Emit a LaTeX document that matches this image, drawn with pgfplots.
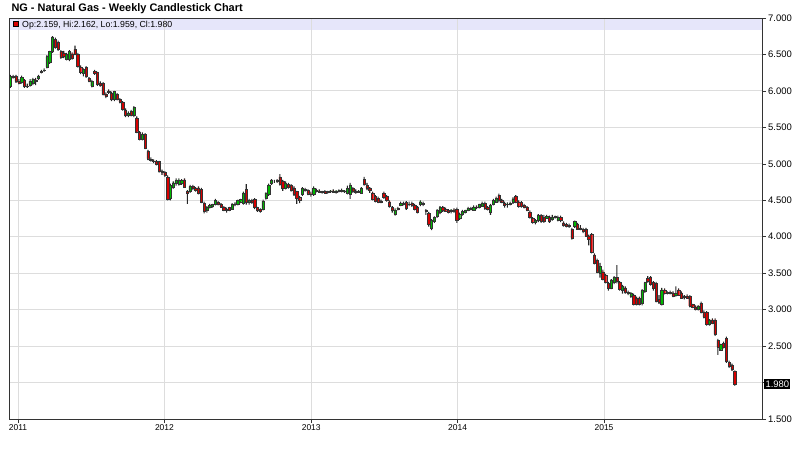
\documentclass[border=0pt]{standalone}
\usepackage{pgfplots}
\pgfplotsset{compat=1.18}
\usepackage{pgfplotstable}
\usepackage{fontspec}
\setmainfont{Liberation Sans}

\definecolor{candleup}{RGB}{0,185,0}
\definecolor{candledown}{RGB}{215,0,0}
\definecolor{bandc}{RGB}{230,230,250}
\definecolor{gridc}{RGB}{221,221,221}

\pgfplotstableread{
i o h l c
0 6.06 6.22 6.04 6.20
1 6.20 6.22 6.17 6.19
2 6.20 6.22 6.11 6.13
3 6.13 6.16 6.09 6.11
4 6.12 6.21 6.10 6.19
5 6.15 6.16 6.04 6.07
6 6.07 6.10 6.04 6.06
7 6.08 6.16 6.06 6.13
8 6.10 6.18 6.08 6.16
9 6.15 6.18 6.08 6.14
10 6.18 6.22 6.15 6.20
11 6.25 6.29 6.24 6.27
12 6.28 6.31 6.26 6.29
13 6.33 6.49 6.31 6.47
14 6.39 6.55 6.37 6.54
15 6.54 6.75 6.52 6.73
16 6.71 6.73 6.58 6.60
17 6.67 6.69 6.55 6.57
18 6.54 6.56 6.44 6.46
19 6.52 6.55 6.45 6.47
20 6.44 6.52 6.42 6.50
21 6.43 6.56 6.41 6.54
22 6.51 6.53 6.43 6.45
23 6.57 6.62 6.49 6.50
24 6.50 6.52 6.32 6.34
25 6.33 6.35 6.23 6.25
26 6.24 6.31 6.20 6.30
27 6.32 6.34 6.18 6.20
28 6.17 6.19 6.12 6.14
29 6.07 6.15 6.05 6.13
30 6.27 6.29 6.22 6.24
31 6.25 6.26 6.07 6.09
32 6.10 6.13 6.06 6.08
33 6.10 6.12 5.94 5.95
34 5.96 5.98 5.90 5.93
35 6.00 6.02 5.96 5.98
36 5.97 5.99 5.86 5.88
37 5.88 6.00 5.86 5.99
38 5.95 5.97 5.87 5.89
39 5.88 5.90 5.83 5.85
40 5.84 5.86 5.73 5.75
41 5.74 5.76 5.64 5.66
42 5.66 5.72 5.64 5.70
43 5.72 5.74 5.65 5.67
44 5.66 5.79 5.64 5.77
45 5.63 5.65 5.42 5.44
46 5.43 5.45 5.32 5.34
47 5.34 5.43 5.32 5.40
48 5.40 5.42 5.20 5.22
49 5.17 5.19 5.05 5.07
50 5.06 5.09 5.03 5.05
51 5.04 5.06 5.01 5.03
52 5.03 5.05 4.98 4.99
53 5.03 5.04 4.88 4.90
54 4.90 4.92 4.85 4.88
55 4.88 4.90 4.82 4.84
56 4.82 4.84 4.50 4.52
57 4.53 4.73 4.50 4.70
58 4.68 4.76 4.66 4.74
59 4.74 4.80 4.70 4.77
60 4.72 4.80 4.70 4.78
61 4.73 4.79 4.71 4.77
62 4.78 4.80 4.67 4.68
63 4.62 4.64 4.45 4.60
64 4.62 4.71 4.60 4.69
65 4.69 4.71 4.64 4.66
66 4.66 4.68 4.62 4.64
67 4.67 4.69 4.58 4.60
68 4.65 4.67 4.46 4.48
69 4.46 4.48 4.32 4.35
70 4.36 4.42 4.33 4.41
71 4.41 4.45 4.39 4.43
72 4.42 4.45 4.40 4.44
73 4.44 4.52 4.43 4.50
74 4.47 4.49 4.43 4.44
75 4.44 4.46 4.40 4.41
76 4.40 4.42 4.35 4.37
77 4.38 4.40 4.33 4.36
78 4.40 4.41 4.35 4.36
79 4.38 4.46 4.37 4.44
80 4.44 4.47 4.42 4.45
81 4.44 4.51 4.43 4.50
82 4.48 4.52 4.46 4.51
83 4.46 4.62 4.44 4.60
84 4.65 4.72 4.44 4.47
85 4.48 4.52 4.44 4.50
86 4.50 4.52 4.45 4.47
87 4.51 4.53 4.38 4.40
88 4.40 4.41 4.34 4.36
89 4.38 4.39 4.33 4.35
90 4.38 4.51 4.36 4.49
91 4.53 4.61 4.51 4.60
92 4.58 4.73 4.56 4.71
93 4.73 4.79 4.71 4.77
94 4.76 4.78 4.74 4.76
95 4.76 4.79 4.74 4.77
96 4.82 4.86 4.70 4.72
97 4.76 4.78 4.63 4.66
98 4.67 4.76 4.65 4.74
99 4.72 4.74 4.66 4.68
100 4.70 4.72 4.62 4.64
101 4.67 4.69 4.56 4.58
102 4.62 4.63 4.45 4.53
103 4.54 4.56 4.46 4.50
104 4.58 4.68 4.56 4.66
105 4.65 4.67 4.62 4.64
106 4.64 4.65 4.57 4.59
107 4.59 4.62 4.55 4.58
108 4.58 4.69 4.56 4.67
109 4.64 4.66 4.61 4.63
110 4.63 4.65 4.60 4.61
111 4.61 4.63 4.59 4.62
112 4.62 4.64 4.59 4.60
113 4.61 4.63 4.59 4.62
114 4.62 4.64 4.60 4.63
115 4.63 4.65 4.60 4.61
116 4.61 4.64 4.59 4.63
117 4.63 4.65 4.61 4.64
118 4.64 4.66 4.61 4.62
119 4.62 4.64 4.60 4.63
120 4.60 4.70 4.58 4.66
121 4.58 4.74 4.52 4.71
122 4.66 4.68 4.60 4.62
123 4.62 4.65 4.59 4.61
124 4.61 4.64 4.60 4.63
125 4.60 4.68 4.59 4.67
126 4.79 4.82 4.70 4.72
127 4.70 4.74 4.64 4.66
128 4.66 4.68 4.60 4.64
129 4.60 4.62 4.50 4.52
130 4.55 4.57 4.47 4.49
131 4.53 4.55 4.46 4.48
132 4.49 4.51 4.46 4.47
133 4.60 4.62 4.52 4.54
134 4.55 4.57 4.48 4.50
135 4.48 4.50 4.40 4.42
136 4.40 4.42 4.33 4.36
137 4.31 4.39 4.29 4.37
138 4.38 4.41 4.36 4.39
139 4.43 4.48 4.42 4.46
140 4.45 4.48 4.43 4.46
141 4.47 4.49 4.37 4.39
142 4.44 4.48 4.42 4.45
143 4.46 4.48 4.41 4.43
144 4.43 4.45 4.36 4.38
145 4.40 4.42 4.32 4.34
146 4.44 4.50 4.42 4.48
147 4.46 4.48 4.42 4.44
148 4.36 4.38 4.30 4.35
149 4.32 4.34 4.14 4.17
150 4.12 4.24 4.09 4.22
151 4.21 4.28 4.19 4.27
152 4.28 4.38 4.26 4.36
153 4.33 4.42 4.31 4.40
154 4.40 4.42 4.34 4.36
155 4.38 4.40 4.34 4.35
156 4.36 4.38 4.32 4.34
157 4.35 4.38 4.32 4.37
158 4.37 4.39 4.33 4.35
159 4.38 4.40 4.19 4.22
160 4.25 4.33 4.23 4.31
161 4.31 4.37 4.29 4.35
162 4.34 4.37 4.32 4.36
163 4.36 4.41 4.35 4.39
164 4.39 4.41 4.36 4.38
165 4.37 4.43 4.36 4.41
166 4.41 4.43 4.38 4.40
167 4.40 4.45 4.39 4.44
168 4.42 4.48 4.41 4.46
169 4.46 4.48 4.37 4.39
170 4.40 4.42 4.36 4.38
171 4.33 4.45 4.30 4.43
172 4.44 4.52 4.43 4.50
173 4.48 4.55 4.47 4.53
174 4.57 4.59 4.47 4.50
175 4.50 4.52 4.46 4.48
176 4.46 4.48 4.40 4.43
177 4.44 4.47 4.40 4.45
178 4.45 4.48 4.43 4.46
179 4.47 4.54 4.45 4.52
180 4.55 4.57 4.46 4.48
181 4.48 4.50 4.40 4.42
182 4.47 4.49 4.40 4.42
183 4.43 4.45 4.39 4.41
184 4.40 4.42 4.35 4.37
185 4.34 4.36 4.25 4.27
186 4.25 4.27 4.18 4.20
187 4.20 4.24 4.17 4.22
188 4.22 4.31 4.20 4.29
189 4.29 4.31 4.19 4.21
190 4.27 4.30 4.19 4.21
191 4.26 4.30 4.25 4.28
192 4.27 4.29 4.19 4.21
193 4.24 4.30 4.22 4.27
194 4.27 4.29 4.25 4.28
195 4.22 4.29 4.21 4.27
196 4.27 4.29 4.20 4.22
197 4.19 4.21 4.14 4.16
198 4.17 4.19 4.13 4.15
199 4.16 4.18 4.12 4.14
200 4.10 4.12 3.96 3.98
201 4.14 4.22 4.12 4.21
202 4.17 4.19 4.10 4.11
203 4.12 4.16 4.09 4.10
204 4.10 4.12 4.05 4.08
205 4.10 4.12 4.00 4.01
206 4.01 4.03 3.88 3.96
207 4.03 4.05 3.77 3.79
208 3.75 3.77 3.62 3.64
209 3.68 3.70 3.50 3.52
210 3.50 3.64 3.44 3.60
211 3.52 3.55 3.40 3.42
212 3.47 3.49 3.36 3.38
213 3.36 3.38 3.26 3.30
214 3.30 3.42 3.28 3.40
215 3.37 3.46 3.35 3.44
216 3.44 3.61 3.36 3.39
217 3.37 3.39 3.26 3.28
218 3.27 3.34 3.22 3.32
219 3.30 3.32 3.22 3.24
220 3.24 3.26 3.20 3.22
221 3.18 3.24 3.16 3.23
222 3.20 3.22 3.06 3.08
223 3.16 3.18 3.06 3.07
224 3.16 3.18 3.06 3.08
225 3.09 3.28 3.06 3.26
226 3.25 3.38 3.23 3.37
227 3.43 3.46 3.37 3.39
228 3.44 3.46 3.33 3.35
229 3.37 3.39 3.26 3.29
230 3.36 3.38 3.10 3.12
231 3.14 3.20 3.08 3.10
232 3.08 3.30 3.06 3.27
233 3.27 3.29 3.21 3.23
234 3.22 3.25 3.21 3.24
235 3.24 3.26 3.21 3.22
236 3.23 3.25 3.17 3.19
237 3.20 3.32 3.18 3.22
238 3.27 3.29 3.19 3.20
239 3.23 3.25 3.15 3.16
240 3.18 3.20 3.14 3.17
241 3.19 3.21 3.15 3.16
242 3.18 3.20 3.03 3.05
243 3.07 3.08 3.02 3.04
244 3.04 3.06 2.99 3.01
245 3.00 3.06 2.99 3.05
246 3.09 3.11 2.95 2.97
247 2.97 2.99 2.88 2.90
248 2.96 2.98 2.78 2.80
249 2.80 2.87 2.78 2.86
250 2.86 2.88 2.80 2.82
251 2.86 2.88 2.64 2.66
252 2.58 2.60 2.38 2.49
253 2.45 2.53 2.44 2.52
254 2.54 2.56 2.47 2.49
255 2.61 2.63 2.27 2.29
256 2.28 2.30 2.20 2.22
257 2.24 2.26 2.16 2.18
258 2.159 2.162 1.959 1.980
}\candles

\pgfplotsset{
  commonaxis/.style={
    at={(0,0)}, anchor=south west, scale only axis,
    width=753bp, height=401bp,
    xmin=-0.5, xmax=267.7, ymin=1.5, ymax=7.0,
  }
}

\begin{document}
\begin{tikzpicture}[font=\fontsize{9}{11}\selectfont]
\path (-9bp,-35bp) rectangle (791bp,419bp);
\fill[bandc] (0,389bp) rectangle (753bp,401bp);
\begin{axis}[commonaxis,
  ybar stacked, bar width=0.38,
  xtick={2.71,54.86,107.14,159.29,211.43},
  xticklabels={2011,2012,2013,2014,2015},
  ytick={1.5,2,2.5,3,3.5,4,4.5,5,5.5,6,6.5,7},
  yticklabels={1.500,{},2.500,3.000,3.500,4.000,4.500,5.000,5.500,6.000,6.500,7.000},
  xtick pos=left, ytick pos=right, yticklabel pos=right,
  tick align=outside, major tick length=4bp,
  tick style={black!80, line width=0.6bp},
  grid=major, major grid style={gridc, line width=1bp},
  axis line style={black!80, line width=0.8bp},
  xticklabel style={font=\fontsize{8.5}{10}\selectfont, inner sep=1.5bp},
  yticklabel style={font=\fontsize{9.5}{10}\selectfont, inner sep=2bp},
  /pgf/number format/assume math mode=true,
]
\addplot[draw=none, fill=none] table[x=i, y=l] {\candles};
\addplot[draw=none, fill=black!85] table[x=i, y expr={\thisrow{h}-\thisrow{l}}] {\candles};
\end{axis}
\begin{axis}[commonaxis, hide axis, ybar stacked, bar width=0.8]
\addplot[draw=none, fill=none] table[x=i, y expr={min(\thisrow{o},\thisrow{c})}] {\candles};
\addplot[fill=candleup, draw=black!80, line width=0.4bp] table[x=i, y expr={max(\thisrow{c}-\thisrow{o},0)}] {\candles};
\addplot[fill=candledown, draw=black!80, line width=0.4bp] table[x=i, y expr={max(\thisrow{o}-\thisrow{c},0)}] {\candles};
\end{axis}
\node[anchor=base west, font=\bfseries\fontsize{11}{13}\selectfont] at (-1bp,407.5bp) {NG - Natural Gas - Weekly Candlestick Chart};
\draw[black, fill=candledown, line width=0.6bp] (4.3bp,392.3bp) rectangle (9.3bp,397.3bp);
\node[anchor=base west, inner sep=0pt, font=\fontsize{8.8}{10}\selectfont] at (13bp,391.5bp) {Op:2.159, Hi:2.162, Lo:1.959, Cl:1.980};
\node[anchor=west, fill=black, text=white, inner sep=1.3bp, font=\fontsize{9.5}{10}\selectfont] at (755bp,35bp) {1.980};
\end{tikzpicture}
\end{document}
